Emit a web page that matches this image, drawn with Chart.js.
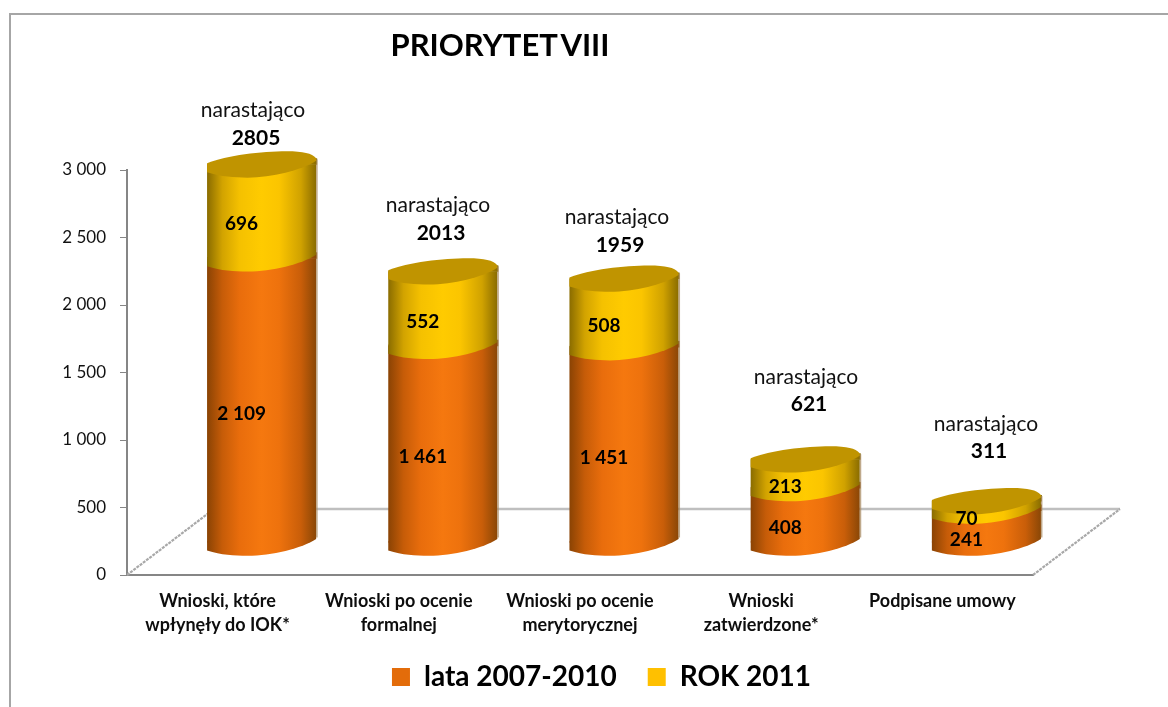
<!DOCTYPE html>
<html lang="pl">
<head>
<meta charset="utf-8">
<title>PRIORYTET VIII</title>
<script src="https://cdn.jsdelivr.net/npm/chart.js@4"></script>
<style>html,body{margin:0;padding:0;background:#fff}canvas{display:block}</style>
</head>
<body>
<canvas id="c" width="1168" height="707"></canvas>
<script>
const chartTitle = 'PRIORYTET VIII';
const categories = [['Wnioski, które','wpłynęły do IOK*'],['Wnioski po ocenie','formalnej'],['Wnioski po ocenie','merytorycznej'],['Wnioski','zatwierdzone*'],'Podpisane umowy'];
const seriesNames = ['lata 2007-2010','ROK 2011'];
const years2007to2010 = [2109,1461,1451,408,241];
const year2011 = [696,552,508,213,70];
const cumulativeWord = 'narastająco';
const cumulative = [2805,2013,1959,621,311];

// presentation only
const FONT = 'Lato, Carlito, sans-serif';
const DEPTH = {x:44, y:-32};
const FLOOR = {x:87, y:-66};
const TOTAL_LIFT = [54,66,61,82,77];
const TOTAL_SHIFT = [-8.6,-4.8,-7,0.8,-0.4];
const ORANGE = ['#8a4304','#c65c08','#e96d0c','#f5780f','#ee720d','#c95e09','#8a4706'];
const YELLOW = ['#8a6c00','#d2a300','#f5c100','#ffcb00','#fbc500','#d0a200','#8a6c00'];
const STOPS = [0,0.14,0.3,0.5,0.66,0.86,1];
const fmt = v => String(v).replace(/\B(?=(\d{3})+$)/g,' ');

function grad(ctx,x0,x1,cols){
  const g = ctx.createLinearGradient(x0,0,x1,0);
  cols.forEach((c,i)=>g.addColorStop(STOPS[i],c));
  return g;
}
function fillFor(cols,solid){
  return c=>{
    if(c.dataIndex===undefined) return solid;
    const ch=c.chart, s=ch.scales.x;
    if(!s||!s.width) return solid;
    const w=s.width/categories.length*0.602, x=s.getPixelForTick(c.dataIndex);
    return grad(ch.ctx,x-w/2,x+w/2,cols);
  };
}
// tilted disc of a cylinder seen from above: proportional to the bar width, centred on the value's pixel
function disc(ctx,el,cy,fill){
  const k=el.width/109, X=d=>el.x+d*k, Y=d=>cy+d;
  ctx.beginPath();
  ctx.moveTo(X(-54.5),Y(8));
  ctx.bezierCurveTo(X(-40),Y(12.5),X(-28),Y(13.3),X(-14),Y(13.3));
  ctx.bezierCurveTo(X(10),Y(13.3),X(40),Y(6),X(54.5),Y(-3.5));
  ctx.lineTo(X(54.5),Y(-6));
  ctx.bezierCurveTo(X(50),Y(-11),X(42),Y(-13),X(25),Y(-13));
  ctx.bezierCurveTo(X(0),Y(-13),X(-35),Y(-9),X(-54.5),Y(-1));
  ctx.closePath();
  ctx.fillStyle=fill;ctx.fill();
}
function wedge(ctx,el,cy,fill){
  const x1=el.x+el.width/2;
  ctx.fillStyle=fill;
  ctx.beginPath();ctx.moveTo(el.x,cy);ctx.lineTo(x1+1,cy-6);ctx.lineTo(x1+1,cy+0.5);ctx.lineTo(el.x,cy+0.5);ctx.closePath();ctx.fill();
}
const cylinders = {
  id:'cylinders',
  afterLayout(chart){
    // legend is centred under the plot block; category labels may run below their box
    chart.legend.left+=80;chart.legend.right+=80;
    chart.scales.x.bottom+=24;
  },
  beforeDatasetsDraw(chart){
    const {ctx,chartArea:a}=chart;
    const back=a.bottom+FLOOR.y;
    ctx.save();
    ctx.strokeStyle='#bfbfbf';ctx.lineWidth=2.5;
    ctx.beginPath();ctx.moveTo(a.left+FLOOR.x,back);ctx.lineTo(a.right+FLOOR.x,back);ctx.stroke();
    ctx.strokeStyle='#a8a8a8';ctx.lineWidth=2.2;ctx.setLineDash([3,1]);
    ctx.beginPath();
    ctx.moveTo(a.left,a.bottom);ctx.lineTo(a.left+FLOOR.x,back);
    ctx.moveTo(a.right,a.bottom);ctx.lineTo(a.right+FLOOR.x,back);
    ctx.stroke();
    ctx.restore();
  },
  beforeDatasetDraw(chart){
    chart.ctx.save();
    chart.ctx.translate(DEPTH.x,DEPTH.y);
  },
  afterDatasetDraw(chart,args){
    const ctx=chart.ctx;
    if(args.index===0){
      const upper=chart.getDatasetMeta(1).data;
      args.meta.data.forEach((el,i)=>{
        const x1=el.x+el.width/2, x0=el.x-el.width/2, top=upper[i];
        const og=grad(ctx,x0,x1,ORANGE), yg=grad(ctx,x0,x1,YELLOW);
        wedge(ctx,el,el.base,'#fff');
        disc(ctx,el,el.base,og);
        wedge(ctx,el,el.y,og);
        disc(ctx,el,el.y,yg);
        wedge(ctx,top,top.y,yg);
        disc(ctx,top,top.y,'#c09400');
        ctx.fillStyle='rgba(170,140,100,.75)';
        ctx.fillRect(x1,top.y-5,1.5,el.base-top.y);
      });
    }
    ctx.restore();
  },
  afterDatasetsDraw(chart){
    const ctx=chart.ctx;
    const m0=chart.getDatasetMeta(0).data,m1=chart.getDatasetMeta(1).data;
    ctx.save();
    ctx.textAlign='center';ctx.textBaseline='middle';ctx.fillStyle='#000';
    ctx.font='bold 19px '+FONT;
    [[m0,years2007to2010],[m1,year2011]].forEach(([m,vals])=>{
      m.forEach((el,i)=>{
        ctx.fillText(fmt(vals[i]),el.x+DEPTH.x-20,(el.y+el.base)/2+DEPTH.y+13);
      });
    });
    m1.forEach((el,i)=>{
      const cx=el.x+DEPTH.x+TOTAL_SHIFT[i], cy=el.y+DEPTH.y-TOTAL_LIFT[i];
      ctx.font='21px '+FONT;ctx.fillStyle='#111';
      ctx.fillText(cumulativeWord,cx,cy);
      ctx.font='bold 21px '+FONT;ctx.fillStyle='#000';
      ctx.fillText(String(cumulative[i]),cx+3,cy+27.5);
    });
    ctx.font='bold 31px '+FONT;ctx.fillStyle='#000';
    ctx.wordSpacing='-5px';
    ctx.fillText(chartTitle,500,46);
    ctx.wordSpacing='0px';
    ctx.restore();
  },
  beforeDraw(chart){
    const ctx=chart.ctx;
    ctx.save();
    ctx.fillStyle='#fff';ctx.fillRect(0,0,chart.width,chart.height);
    ctx.strokeStyle='#a6a6a6';ctx.lineWidth=2;
    ctx.beginPath();ctx.moveTo(10,chart.height);ctx.lineTo(10,14);ctx.lineTo(chart.width,14);ctx.stroke();
    ctx.restore();
  }
};
const legendColours=['#e36c0a','#ffc000'];
new Chart(document.getElementById('c'),{
  type:'bar',
  plugins:[cylinders],
  data:{
    labels:categories,
    datasets:[
      {label:seriesNames[0],data:years2007to2010,clip:false,backgroundColor:fillFor(ORANGE,'#e36c0a'),hoverBackgroundColor:fillFor(ORANGE,'#e36c0a')},
      {label:seriesNames[1],data:year2011,clip:false,backgroundColor:fillFor(YELLOW,'#ffc000'),hoverBackgroundColor:fillFor(YELLOW,'#ffc000')}
    ]
  },
  options:{
    responsive:false,
    animation:false,
    events:[],
    layout:{padding:{left:10,top:170,right:135,bottom:6}},
    datasets:{bar:{barPercentage:0.602,categoryPercentage:1,borderWidth:0}},
    scales:{
      x:{
        stacked:true,
        grid:{display:false},
        border:{display:true,color:'#868686',width:2},
        afterFit(s){s.height=57;},
        ticks:{font:{family:FONT,size:18,weight:'bold',lineHeight:1.33},color:'#0d0d0d',padding:6,maxRotation:0,autoSkip:false}
      },
      y:{
        stacked:true,min:0,max:3000,
        afterFit(s){s.width=117;},
        grid:{drawOnChartArea:false,color:'#868686',tickLength:7,lineWidth:1},
        border:{display:true,color:'#868686',width:2},
        ticks:{stepSize:500,padding:14,color:'#111',font:{family:FONT,size:17},callback:v=>fmt(v)}
      }
    },
    plugins:{
      tooltip:{enabled:false},
      title:{display:false},
      legend:{
        position:'bottom',
        labels:{
          boxWidth:18,boxHeight:18,padding:31,color:'#000',font:{family:FONT,size:28,weight:'bold'},
          generateLabels:()=>seriesNames.map((t,i)=>({text:t,fillStyle:legendColours[i],strokeStyle:legendColours[i],lineWidth:0,datasetIndex:i,fontColor:'#000'}))
        }
      }
    }
  }
});
</script>
</body>
</html>
